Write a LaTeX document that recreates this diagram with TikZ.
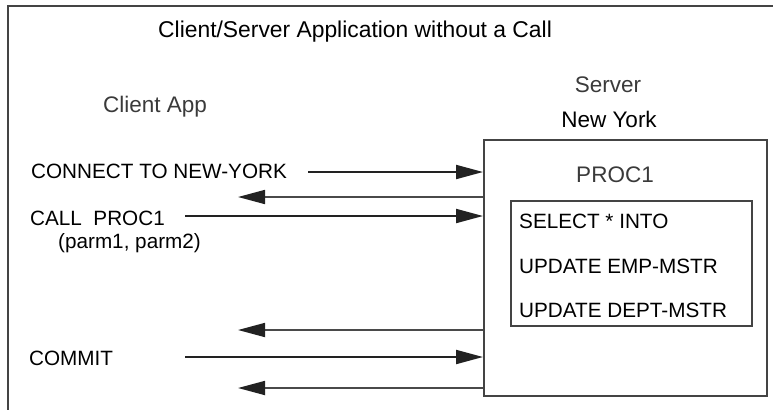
\documentclass[tikz,border=0pt]{standalone}
\usepackage{fontspec}
\setmainfont{Liberation Sans}
\usetikzlibrary{arrows.meta}
\definecolor{framegray}{HTML}{444444}
\definecolor{labelgray}{HTML}{3A3A3A}
\definecolor{tipdark}{HTML}{222222}
\definecolor{backgray}{HTML}{4A4A4A}
\tikzset{
  heading/.style={inner sep=0pt, font=\fontsize{22.5bp}{26bp}\selectfont},
  titletext/.style={inner sep=0pt, font=\fontsize{22.85bp}{26bp}\selectfont},
  stmt/.style={inner sep=0pt, font=\fontsize{20.7bp}{24bp}\selectfont},
  boxframe/.style={draw=framegray, line width=2bp, inner sep=0pt, anchor=north west},
  request/.style={line width=2bp, draw=tipdark,
    -{Triangle[length=27bp, width=14bp]}},
  reply/.style={line width=1.7bp, draw=backgray,
    -{Triangle[length=27bp, width=14bp, color=tipdark]}},
}
\begin{document}
\begin{tikzpicture}[x=1bp, y=-1bp]
\useasboundingbox (0,0) rectangle (773,410);

% outer frame (open towards the right and bottom)
\draw[framegray, line width=2bp] (773,6) -- (8,6) -- (8,410);

% headings
\node[titletext, anchor=base west] (title) at (158,37) {Client/Server Application without a Call};
\node[heading, anchor=base west, text=labelgray] (client) at (103,112) {Client App};
\node[heading, anchor=base, text=labelgray] (server) at (608,92) {Server};
\node[heading, anchor=base] (city) at (609,127) {New York};

% server box with the procedure
\node[boxframe, minimum width=283bp, minimum height=256bp] (srv) at (483,139) {};
\node[heading, anchor=base, text=labelgray] (proc) at (615,182) {PROC1};
\node[boxframe, minimum width=241bp, minimum height=125bp] (body) at (510,200) {};
\node[stmt, anchor=base west] (sel) at (519,228) {SELECT * INTO};
\node[stmt, anchor=base west] (emp) at (519,273) {UPDATE EMP-MSTR};
\node[stmt, anchor=base west] (dept) at (519,317) {UPDATE DEPT-MSTR};

% client statements
\node[stmt, anchor=base west] (connect) at (31,178) {CONNECT TO NEW-YORK};
\node[stmt, anchor=base west] (call) at (30,225) {CALL\ \ PROC1};
\node[stmt, anchor=base west] (parms) at (58,248) {(parm1, parm2)};
\node[stmt, anchor=base west] (commit) at (29,365) {COMMIT};

% message endpoints on the client side
\coordinate (rq1) at (308,172);
\coordinate (rq2) at (185,216);
\coordinate (rq3) at (185,357);
\coordinate (rp1) at (238,197);
\coordinate (rp2) at (238,330);
\coordinate (rp3) at (238,388);

% requests to the server
\draw[request] (rq1) -- (rq1 -| srv.west);
\draw[request] (rq2) -- (rq2 -| srv.west);
\draw[request] (rq3) -- (rq3 -| srv.west);

% replies back to the client
\draw[reply] (rp1 -| srv.west) -- (rp1);
\draw[reply] (rp2 -| srv.west) -- (rp2);
\draw[reply] (rp3 -| srv.west) -- (rp3);
\end{tikzpicture}
\end{document}
